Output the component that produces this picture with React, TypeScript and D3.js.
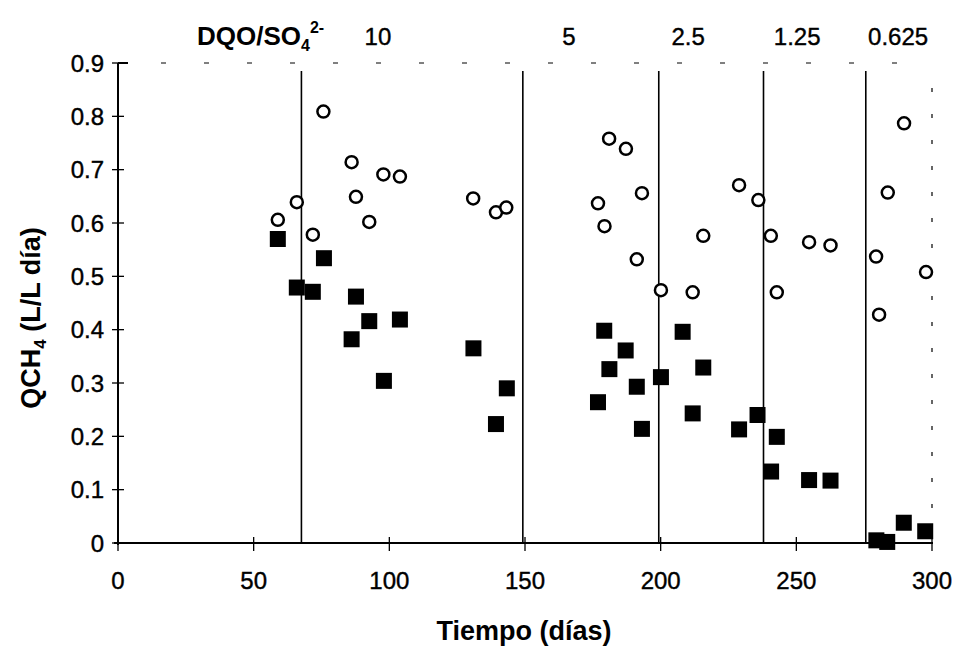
import React from "react";
import * as d3 from "d3";

const circleDays = [58.9, 65.9, 71.8, 75.7, 86.1, 87.7, 92.6, 97.8, 103.9, 130.9, 139.3, 143.1, 176.9, 179.3, 181.0, 187.2, 191.2, 193.1, 200.1, 211.8, 215.7, 228.9, 236.0, 240.6, 242.8, 254.7, 262.6, 279.4, 280.5, 283.7, 289.7, 297.8];
const circleVals = [0.606, 0.639, 0.578, 0.809, 0.714, 0.649, 0.602, 0.691, 0.687, 0.646, 0.620, 0.629, 0.637, 0.594, 0.758, 0.739, 0.532, 0.656, 0.474, 0.470, 0.576, 0.671, 0.643, 0.576, 0.470, 0.564, 0.558, 0.537, 0.428, 0.657, 0.787, 0.508];

const squareDays = [58.9, 65.9, 71.8, 75.9, 86.1, 87.7, 92.6, 98.0, 103.9, 131.0, 139.3, 143.3, 176.9, 179.2, 181.1, 187.1, 191.2, 193.1, 200.1, 208.1, 211.8, 215.7, 228.9, 235.7, 240.7, 242.8, 254.7, 262.6, 279.5, 283.5, 289.6, 297.5];
const squareVals = [0.570, 0.479, 0.471, 0.534, 0.382, 0.462, 0.416, 0.304, 0.419, 0.365, 0.223, 0.290, 0.264, 0.398, 0.326, 0.361, 0.293, 0.214, 0.311, 0.396, 0.243, 0.329, 0.213, 0.240, 0.134, 0.199, 0.118, 0.117, 0.005, 0.002, 0.038, 0.022];

const phaseDays = [67.6, 149.2, 199.3, 237.9, 275.6];
const ratioLabels = ["10", "5", "2.5", "1.25", "0.625"];
const ratioLabelDays = [95.8, 166.2, 210.1, 250.3, 287.5];

const xTicks = [0, 50, 100, 150, 200, 250, 300];
const yTicks = [0, 0.1, 0.2, 0.3, 0.4, 0.5, 0.6, 0.7, 0.8, 0.9];

const W = 955, H = 646;
const left = 118, right = 932, top = 63, bottom = 543;
const FONT = "Liberation Sans, Arial, Helvetica, sans-serif";

export default function App() {
  const x = d3.scaleLinear().domain([0, 300]).range([left, right]);
  const y = d3.scaleLinear().domain([0, 0.9]).range([bottom, top]);
  const sq = 16;

  return (
    <svg width={W} height={H} style={{ position: "absolute", left: 0, top: 0, background: "#fff" }} fontFamily={FONT}>
      <rect x={0} y={0} width={W} height={H} fill="#fff" />
      {/* top dashed border */}
      <line x1={left} x2={right} y1={top} y2={top} stroke="#000" strokeWidth={1} strokeDasharray="5 38" />
      <line x1={left} x2={left + 10} y1={top} y2={top} stroke="#000" strokeWidth={2} />
      {/* right dashed border */}
      <line x1={right} x2={right} y1={top + 25} y2={bottom} stroke="#000" strokeWidth={1.2} strokeDasharray="4 22" />
      {/* phase lines */}
      {phaseDays.map((d, i) => (
        <line key={"p" + i} x1={x(d)} x2={x(d)} y1={top + 8} y2={bottom} stroke="#000" strokeWidth={1.6} />
      ))}
      {/* axes */}
      <line x1={left} x2={left} y1={top} y2={bottom + 2} stroke="#000" strokeWidth={2} />
      <line x1={left - 4} x2={right + 1} y1={bottom} y2={bottom} stroke="#000" strokeWidth={2} />
      {yTicks.map((t, i) => (
        <g key={"yt" + i}>
          <line x1={left - 6} x2={left + 6} y1={y(t)} y2={y(t)} stroke="#000" strokeWidth={1.3} />
          <text x={left - 14} y={y(t)} dy="0.36em" textAnchor="end" fontSize={24} stroke="#000" strokeWidth={0.4}>
            {t === 0 ? "0" : t.toFixed(1)}
          </text>
        </g>
      ))}
      {xTicks.map((t, i) => (
        <g key={"xt" + i}>
          <line x1={x(t)} x2={x(t)} y1={bottom - 6} y2={bottom + 8} stroke="#000" strokeWidth={1.3} />
          <text x={x(t)} y={bottom + 46} textAnchor="middle" fontSize={24} stroke="#000" strokeWidth={0.4}>{t}</text>
        </g>
      ))}
      {/* circles */}
      {circleDays.map((d, i) => (
        <circle key={"c" + i} cx={x(d)} cy={y(circleVals[i])} r={6} fill="#fff" stroke="#000" strokeWidth={2.5} />
      ))}
      {/* squares */}
      {squareDays.map((d, i) => (
        <rect key={"s" + i} x={x(d) - sq / 2} y={y(squareVals[i]) - sq / 2} width={sq} height={sq} fill="#000" />
      ))}
      {/* top labels */}
      <text x={197} y={45} fontSize={26} fontWeight="bold">
        DQO/SO
        <tspan fontSize={16} dy={6}>4</tspan>
        <tspan fontSize={16} dy={-18}>2-</tspan>
      </text>
      {ratioLabels.map((l, i) => (
        <text key={"r" + i} x={x(ratioLabelDays[i])} y={45} textAnchor="middle" fontSize={24} stroke="#000" strokeWidth={0.4}>{l}</text>
      ))}
      {/* axis titles */}
      <text x={524} y={640} textAnchor="middle" fontSize={27} fontWeight="bold">Tiempo (días)</text>
      <text transform={`translate(40, ${(top + bottom) / 2 + 15}) rotate(-90)`} textAnchor="middle" fontSize={27} fontWeight="bold">
        QCH<tspan fontSize={17} dy={6}>4</tspan><tspan dy={-6}> (L/L día)</tspan>
      </text>
    </svg>
  );
}
